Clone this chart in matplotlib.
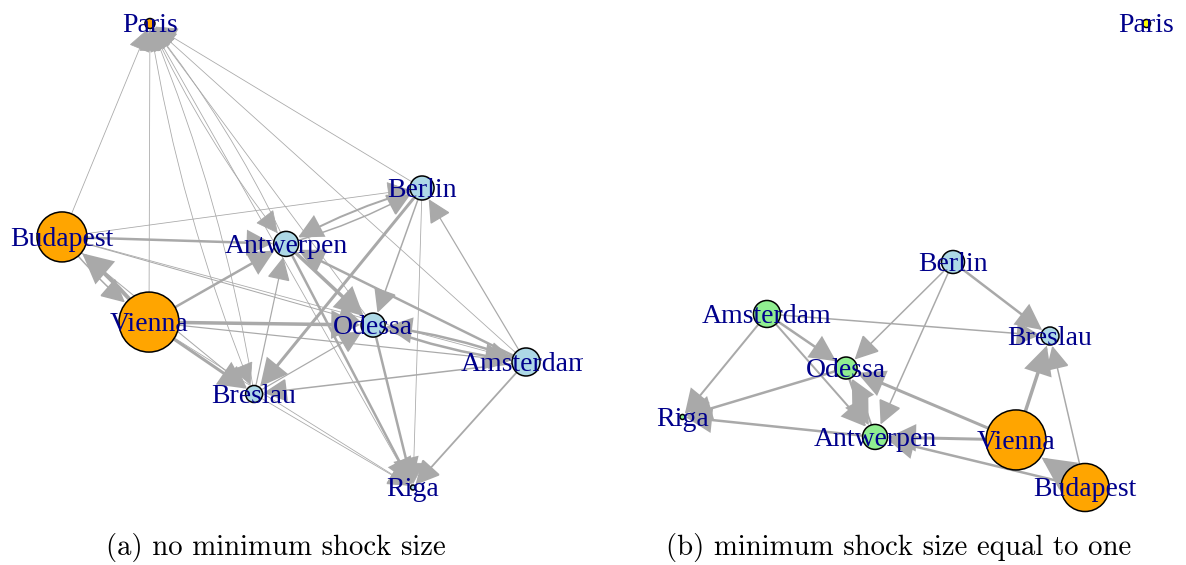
import matplotlib.pyplot as plt
from matplotlib.patches import Circle, FancyArrowPatch, ArrowStyle

# noeuds (coordonnees de layout igraph, remises a l'echelle [-1, 1])
cities = ["Paris", "Berlin", "Budapest", "Antwerpen", "Vienna",
          "Odessa", "Amsterdam", "Breslau", "Riga"]

# (a) pas de taille minimale de choc
layout_a_x = [-0.621, 0.552, -1.0, -0.034, -0.625, 0.341, 1.0, -0.172, 0.513]
layout_a_y = [1.0, 0.291, 0.080, 0.050, -0.287, -0.300, -0.459, -0.597, -1.0]
vsize_a = [5, 12, 25, 12.5, 30, 12, 14, 8.5, 2.5]
vcol_a = ["orange", "lightblue", "orange", "lightblue", "orange",
          "lightblue", "lightblue", "lightblue", "lightblue"]

src_a = ["Budapest", "Vienna", "Breslau", "Paris", "Antwerpen", "Paris", "Odessa", "Riga", "Amsterdam", "Berlin",
         "Budapest", "Budapest", "Budapest", "Budapest", "Budapest", "Vienna", "Budapest",
         "Vienna", "Vienna", "Vienna", "Vienna", "Vienna",
         "Berlin", "Antwerpen", "Berlin", "Berlin", "Berlin",
         "Amsterdam", "Amsterdam", "Amsterdam", "Odessa", "Amsterdam", "Amsterdam",
         "Antwerpen", "Breslau", "Breslau", "Breslau", "Antwerpen", "Odessa"]
dst_a = ["Paris", "Paris", "Paris", "Breslau", "Paris", "Antwerpen", "Paris", "Paris", "Paris", "Paris",
         "Berlin", "Antwerpen", "Odessa", "Amsterdam", "Breslau", "Budapest", "Vienna",
         "Antwerpen", "Odessa", "Amsterdam", "Breslau", "Riga",
         "Antwerpen", "Berlin", "Odessa", "Breslau", "Riga",
         "Berlin", "Antwerpen", "Odessa", "Amsterdam", "Breslau", "Riga",
         "Odessa", "Antwerpen", "Odessa", "Riga", "Riga", "Riga"]
w_a = [0.8, 0.8, 0.8, 0.8, 0.8, 0.8, 0.8, 0.8, 0.8, 0.8,
       0.8, 2.5, 1.0, 0.8, 1.0, 4.0, 1.5,
       2.5, 3.5, 1.2, 3.0, 0.8,
       2.0, 1.5, 1.5, 3.0, 0.8,
       1.2, 2.5, 2.5, 2.5, 1.5, 1.8,
       3.5, 1.2, 1.2, 0.8, 2.5, 2.5]

# (b) taille minimale de choc egale a un
layout_b_x = [1.0, 0.166, 0.735, -0.170, 0.4375, -0.295, -0.636, 0.584, -1.0]
layout_b_y = [1.0, -0.028, -1.0, -0.782, -0.795, -0.485, -0.252, -0.347, -0.696]
vsize_b = [4, 11.5, 24, 12.5, 30, 11, 13.5, 9, 2.5]
vcol_b = ["yellow", "lightblue", "orange", "lightgreen", "orange",
          "lightgreen", "lightgreen", "lightblue", "lightgreen"]

src_b = ["Berlin", "Berlin", "Berlin", "Amsterdam", "Amsterdam", "Amsterdam", "Amsterdam",
         "Odessa", "Odessa", "Antwerpen", "Antwerpen", "Vienna", "Vienna", "Budapest",
         "Vienna", "Budapest", "Budapest"]
dst_b = ["Breslau", "Odessa", "Antwerpen", "Breslau", "Odessa", "Antwerpen", "Riga",
         "Riga", "Antwerpen", "Odessa", "Riga", "Odessa", "Antwerpen", "Antwerpen",
         "Breslau", "Breslau", "Vienna"]
w_b = [2.5, 1.5, 1.5, 1.5, 2.5, 2.0, 2.0, 2.5, 2.5, 2.0, 2.5, 3.0, 3.0, 2.5, 3.5, 1.5, 5.0]

captions = ["(a) no minimum shock size", "(b) minimum shock size equal to one"]

W, H = 1186, 565
UNIT = 232.0  # pixels par unite de layout
PT = 0.72     # px -> pt a dpi 100

fig = plt.figure(figsize=(W / 100, H / 100), dpi=100)


def make_panel(box, center):
    # box = (x0, y0, x1, y1) en pixels depuis le coin haut gauche
    x0, y0, x1, y1 = box
    cx, cy = center
    ax = fig.add_axes([x0 / W, 1 - y1 / H, (x1 - x0) / W, (y1 - y0) / H])
    ax.set_xlim((x0 - cx) / UNIT, (x1 - cx) / UNIT)
    ax.set_ylim((cy - y1) / UNIT, (cy - y0) / UNIT)
    ax.axis("off")
    return ax


def draw_graph(ax, xs, ys, vsize, vcol, src, dst, widths):
    pos = {c: (x, y) for c, x, y in zip(cities, xs, ys)}
    rad = dict(zip(cities, vsize))
    pairs = set(zip(src, dst))
    for s, d, w in zip(src, dst, widths):
        mutual = (d, s) in pairs
        style = ArrowStyle("-|>", head_length=(19 + 1.2 * w) * PT,
                           head_width=(9.5 + 0.6 * w) * PT)
        arr = FancyArrowPatch(pos[s], pos[d], arrowstyle=style, mutation_scale=1,
                              shrinkA=rad[s] * PT, shrinkB=(rad[d] + 1) * PT,
                              connectionstyle="arc3,rad=%s" % (0.06 if mutual else 0.0),
                              color="#A9A9A9", lw=w * PT, joinstyle="miter", zorder=1)
        ax.add_patch(arr)
    for c, col in zip(cities, vcol):
        ax.add_patch(Circle(pos[c], rad[c] / UNIT, facecolor=col, edgecolor="black",
                            lw=1.1, zorder=2))
    for c in cities:
        ax.text(pos[c][0], pos[c][1] - 2.5 / UNIT, c, ha="center", va="center", fontsize=20,
                family="Liberation Serif", color="#00008B", zorder=3, clip_on=True)


ax_a = make_panel((5, 0, 583, 520), (294, 255.5))
draw_graph(ax_a, layout_a_x, layout_a_y, vsize_a, vcol_a, src_a, dst_a, w_a)

ax_b = make_panel((600, 0, 1186, 520), (914.5, 255.5))
draw_graph(ax_b, layout_b_x, layout_b_y, vsize_b, vcol_b, src_b, dst_b, w_b)

fig.text(276 / W, 1 - 547 / H, captions[0], ha="center", va="center",
         family="cmr10", fontsize=20.7)
fig.text(899 / W, 1 - 547 / H, captions[1], ha="center", va="center",
         family="cmr10", fontsize=20.7)

fig.savefig("out.png", dpi=100)
